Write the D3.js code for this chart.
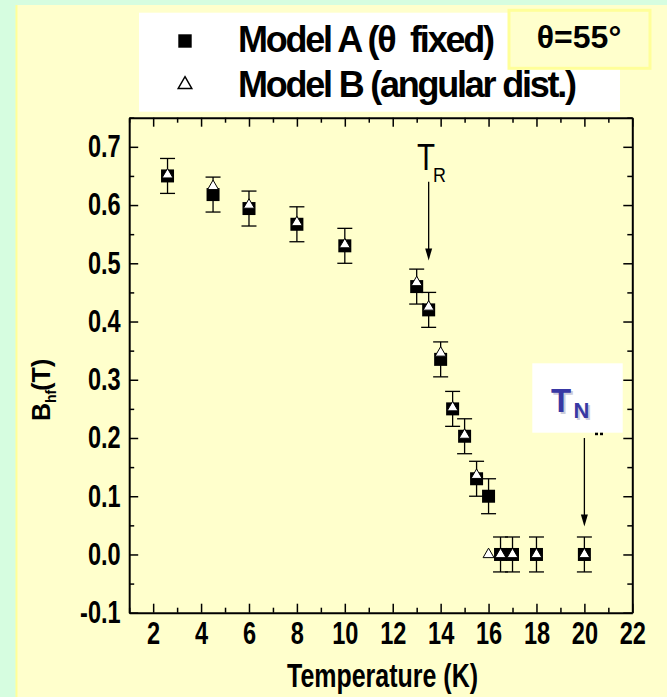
<!DOCTYPE html>
<html>
<head>
<meta charset="utf-8">
<script src="https://cdn.jsdelivr.net/npm/d3@7"></script>
<style>
  body { margin: 0; background: #d6fde0; }
  svg { display: block; }
  text { font-family: 'Liberation Sans', Arial, sans-serif; }
</style>
</head>
<body>
<svg id="chart"></svg>
<script>
// data
const temps  = [2.6, 4.5, 6, 8, 10, 13, 13.5, 14, 14.5, 15, 15.5, 16, 16.5, 17, 18, 20];
const modelA = [0.65, 0.618, 0.594, 0.567, 0.53, 0.46, 0.42, 0.335, 0.25, 0.203, 0.13, 0.10, 0, 0, 0, 0];
const errA   = [0.03, 0.03, 0.03, 0.03, 0.03, 0.03, 0.03, 0.03, 0.03, 0.03, 0.03, 0.03, 0.03, 0.03, 0.03, 0.03];
const modelB = [0.652, 0.632, 0.60, 0.57, 0.532, 0.467, 0.425, 0.346, 0.252, 0.205, 0.136, 0.0, 0, 0, 0, 0];

const xMajor = [2, 4, 6, 8, 10, 12, 14, 16, 18, 20, 22];
const xMinor = [1, 3, 5, 7, 9, 11, 13, 15, 17, 19, 21];
const yMajor = [-0.1, 0.0, 0.1, 0.2, 0.3, 0.4, 0.5, 0.6, 0.7];
const yMinor = [-0.05, 0.05, 0.15, 0.25, 0.35, 0.45, 0.55, 0.65, 0.75];

const legendLabels = ['Model A (\u03b8  fixed)', 'Model B (angular dist.)'];
const thetaLabel = '\u03b8=55\u00b0';
// annotation arrows: [temperature, value at start, value at tip]
const arrowTR = [13.5, 0.64, 0.505];
const arrowTN = [20, 0.200, 0.048];

const W = 667, H = 697;
const svg = d3.select('#chart').attr('width', W).attr('height', H);

// squeeze text horizontally (no narrow font installed)
function squeeze(sel, f) {
  sel.each(function () {
    const w = this.getComputedTextLength();
    d3.select(this).attr('textLength', w * f).attr('lengthAdjust', 'spacingAndGlyphs');
  });
}

svg.append('rect').attr('width', W).attr('height', H).attr('fill', '#d6fde0');
svg.append('rect').attr('x', 16).attr('y', 5).attr('width', W - 16).attr('height', H - 5).attr('fill', '#ffffcc');
svg.append('line').attr('x1', 16.5).attr('x2', 16.5).attr('y1', 5).attr('y2', H).attr('stroke', '#ffff99').attr('stroke-width', 2);

const x = d3.scaleLinear().domain([1, 22]).range([129.2, 632.3]);
const y = d3.scaleLinear().domain([-0.1, 0.75]).range([612.7, 117.7]);

// axes
function styleAxis(g) {
  g.selectAll('.domain').attr('stroke-width', 2);
  g.selectAll('.tick line').attr('stroke-width', 1.5);
  g.selectAll('text').attr('font-family', null).attr('font-size', 31).attr('font-weight', 'bold').attr('fill', '#000');
  squeeze(g.selectAll('text'), 0.76);
}
function minor(g) {
  g.select('.domain').remove();
  g.selectAll('line').attr('stroke-width', 1.5);
}

const gx = svg.append('g').attr('transform', `translate(0,${y(-0.1)})`)
  .call(d3.axisBottom(x).tickValues(xMajor).tickSizeInner(-9).tickSizeOuter(0).tickPadding(9).tickFormat(d => String(d)));
styleAxis(gx);
svg.append('g').attr('transform', `translate(0,${y(-0.1)})`)
  .call(d3.axisBottom(x).tickValues(xMinor).tickSizeInner(-5).tickSizeOuter(0).tickFormat('')).call(minor);

const gt = svg.append('g').attr('transform', `translate(0,${y(0.75)})`)
  .call(d3.axisTop(x).tickValues(xMajor).tickSizeInner(-9).tickSizeOuter(0).tickFormat(''));
styleAxis(gt);
svg.append('g').attr('transform', `translate(0,${y(0.75)})`)
  .call(d3.axisTop(x).tickValues(xMinor).tickSizeInner(-5).tickSizeOuter(0).tickFormat('')).call(minor);

const gy = svg.append('g').attr('transform', `translate(${x(1)},0)`)
  .call(d3.axisLeft(y).tickValues(yMajor).tickSizeInner(-9).tickSizeOuter(0).tickPadding(8.5)
    .tickFormat(d => d.toFixed(1).replace('\u2212', '-')));
styleAxis(gy);
svg.append('g').attr('transform', `translate(${x(1)},0)`)
  .call(d3.axisLeft(y).tickValues(yMinor).tickSizeInner(-5).tickSizeOuter(0).tickFormat('')).call(minor);

const gr = svg.append('g').attr('transform', `translate(${x(22)},0)`)
  .call(d3.axisRight(y).tickValues(yMajor).tickSizeInner(-9).tickSizeOuter(0).tickFormat(''));
styleAxis(gr);
svg.append('g').attr('transform', `translate(${x(22)},0)`)
  .call(d3.axisRight(y).tickValues(yMinor).tickSizeInner(-5).tickSizeOuter(0).tickFormat('')).call(minor);

// axis titles
svg.append('text')
  .attr('x', 382.5).attr('y', 687).attr('text-anchor', 'middle')
  .attr('font-size', 33).attr('font-weight', 'bold').attr('textLength', 191).attr('lengthAdjust', 'spacingAndGlyphs')
  .text('Temperature (K)');

const yt = svg.append('text').attr('transform', 'translate(50,421) rotate(-90)').attr('font-size', 25).attr('font-weight', 'bold');
yt.append('tspan').text('B');
yt.append('tspan').attr('font-size', 14).attr('dy', 6).text('hf');
yt.append('tspan').attr('dy', -6).attr('dx', -1).text('(T)');

// data
const pts = temps.map((t, i) => ({ t, a: modelA[i], e: errA[i], b: modelB[i] }));
const eb = svg.append('g').attr('stroke', '#000').attr('stroke-width', 1.3);
pts.forEach(d => {
  const cx = x(d.t);
  eb.append('line').attr('x1', cx).attr('x2', cx).attr('y1', y(d.a - d.e)).attr('y2', y(d.a + d.e));
  [d.a - d.e, d.a + d.e].forEach(v => eb.append('line').attr('x1', cx - 7.5).attr('x2', cx + 7.5).attr('y1', y(v)).attr('y2', y(v)));
});

svg.append('g').selectAll('path').data(pts).join('path')
  .attr('transform', d => `translate(${x(d.t)},${y(d.a)})`)
  .attr('d', d3.symbol(d3.symbolSquare, 169))
  .attr('fill', '#000');

svg.append('g').selectAll('path').data(pts).join('path')
  .attr('transform', d => `translate(${x(d.t)},${y(d.b)})`)
  .attr('d', d3.symbol(d3.symbolTriangle, 52))
  .attr('fill', '#fff').attr('stroke', '#000').attr('stroke-width', 1);

// arrows
function arrow(a) {
  const ax = x(a[0]), y0 = y(a[1]), y1 = y(a[2]);
  svg.append('line').attr('x1', ax).attr('x2', ax).attr('y1', y0).attr('y2', y1 - 10)
    .attr('stroke', '#000').attr('stroke-width', 1.3);
  svg.append('path').attr('d', `M${ax},${y1} L${ax - 3.5},${y1 - 12} L${ax + 3.5},${y1 - 12} Z`).attr('fill', '#000');
}
arrow(arrowTR);
arrow(arrowTN);

// T_R label
const trT = svg.append('text').attr('x', 417).attr('y', 170).attr('font-size', 36).text('T');
squeeze(trT, 0.82);
const trR = svg.append('text').attr('x', 433).attr('y', 181.7).attr('font-size', 21).text('R');
squeeze(trR, 0.85);

// T_N box
svg.append('rect').attr('x', 532.3).attr('y', 363.3).attr('width', 90.4).attr('height', 69.4).attr('fill', '#fff');
svg.append('g').attr('fill', '#000').selectAll('rect').data([595, 600]).join('rect')
  .attr('x', d => d).attr('y', 432.7).attr('width', 3).attr('height', 2.5);
[['#9a9ab8', 2, 0.5], ['#3838a4', 0, 1]].forEach(([c, o, op]) => {
  svg.append('text').attr('x', 551 + o).attr('y', 411.7 + o)
    .attr('font-family', 'DejaVu Sans, sans-serif').attr('font-weight', 'bold').attr('font-size', 33)
    .attr('fill', c).attr('opacity', op).text('T');
  svg.append('text').attr('x', 573.5 + o).attr('y', 418.3 + o)
    .attr('font-family', 'DejaVu Sans, sans-serif').attr('font-weight', 'bold').attr('font-size', 22)
    .attr('fill', c).attr('opacity', op).text('N');
});

// legend
svg.append('rect').attr('x', 139).attr('y', 12.7).attr('width', 481).attr('height', 99).attr('fill', '#fff');
svg.append('path').attr('transform', 'translate(185,41)').attr('d', d3.symbol(d3.symbolSquare, 180)).attr('fill', '#000');
svg.append('path').attr('transform', 'translate(185,84.5)').attr('d', d3.symbol(d3.symbolTriangle, 80))
  .attr('fill', '#fff').attr('stroke', '#000').attr('stroke-width', 1.5);
const legLen = [257, 339];
legendLabels.forEach((s, i) => {
  svg.append('text').attr('x', 238).attr('y', 52 + i * 45)
    .attr('font-weight', 'bold').attr('font-size', 36)
    .attr('textLength', legLen[i]).attr('lengthAdjust', 'spacing').style('white-space', 'pre')
    .text(s);
});

// theta box
svg.append('rect').attr('x', 509).attr('y', 10.3).attr('width', 141).attr('height', 58)
  .attr('fill', '#ffffcc').attr('stroke', '#ffff99').attr('stroke-width', 3);
svg.append('text').attr('x', 579).attr('y', 48.3).attr('text-anchor', 'middle')
  .attr('font-weight', 'bold').attr('font-size', 32)
  .text(thetaLabel);
</script>
</body>
</html>
